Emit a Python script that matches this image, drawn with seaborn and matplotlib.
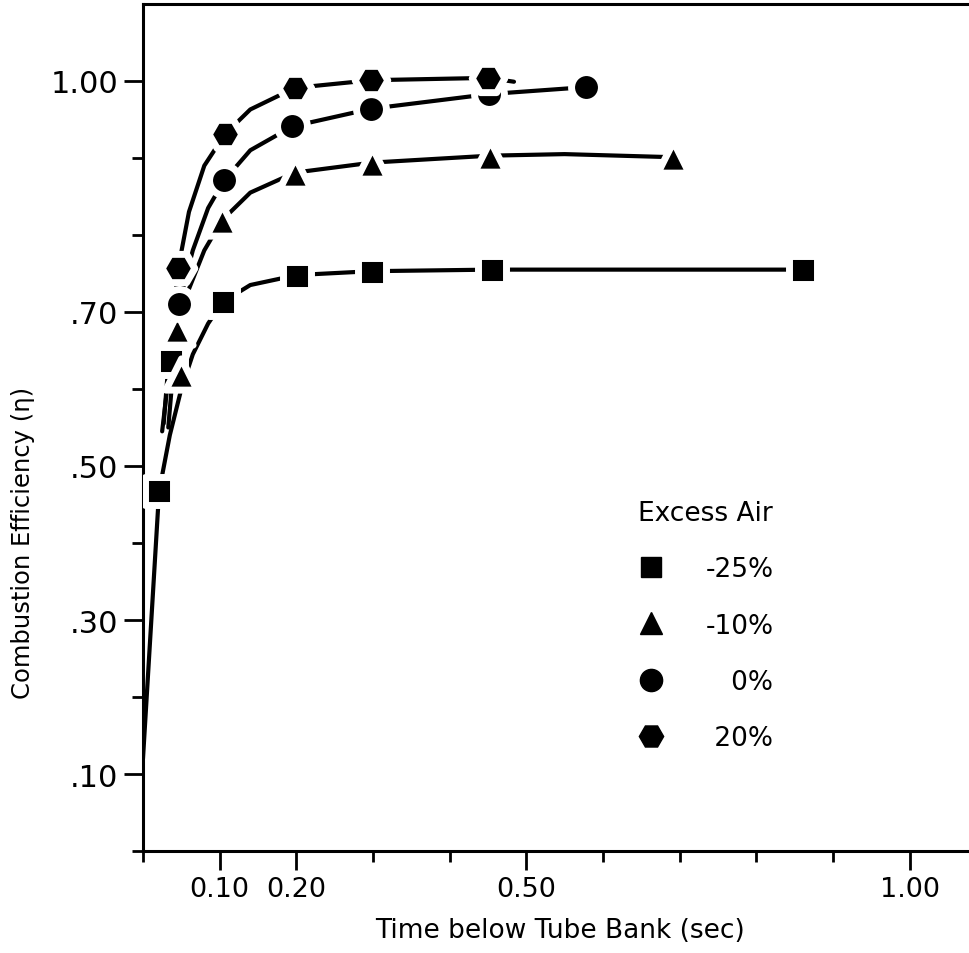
import matplotlib
matplotlib.use("Agg")
import matplotlib.pyplot as plt
from matplotlib.lines import Line2D
import pandas as pd
import seaborn as sns

# excess-air cases and their marker shapes
series = ["-25%", "-10%", "0%", "20%"]
marker_map = {"-25%": "s", "-10%": "^", "0%": "o", "20%": "H"}
# key labels, padded with digit/punctuation spaces so they line up on the right
key_labels = ["-25%", "-10%", "\u2008\u20070%", "\u200820%"]

# measured points (time in sec, combustion efficiency)
sq_x = [0.021, 0.036, 0.104, 0.201, 0.299, 0.455, 0.861]
sq_y = [0.467, 0.636, 0.713, 0.747, 0.752, 0.755, 0.755]
tri_x = [0.049, 0.044, 0.103, 0.198, 0.299, 0.453, 0.691]
tri_y = [0.619, 0.678, 0.819, 0.881, 0.894, 0.903, 0.901]
cir_x = [0.047, 0.106, 0.195, 0.298, 0.452, 0.578]
cir_y = [0.711, 0.871, 0.941, 0.964, 0.983, 0.992]
hex_x = [0.046, 0.107, 0.198, 0.298, 0.450]
hex_y = [0.757, 0.931, 0.991, 1.001, 1.004]

# hand-drawn fit curves
sq_curve_x = [0.0, 0.021, 0.035, 0.050, 0.065, 0.085, 0.104, 0.140, 0.201, 0.299, 0.455, 0.861]
sq_curve_y = [0.12, 0.467, 0.540, 0.600, 0.645, 0.685, 0.713, 0.735, 0.748, 0.753, 0.755, 0.755]
tri_curve_x = [0.033, 0.039, 0.044, 0.060, 0.080, 0.103, 0.140, 0.198, 0.299, 0.453, 0.550, 0.691]
tri_curve_y = [0.550, 0.620, 0.678, 0.730, 0.780, 0.819, 0.855, 0.881, 0.894, 0.903, 0.905, 0.901]
cir_curve_x = [0.025, 0.035, 0.047, 0.065, 0.085, 0.106, 0.140, 0.195, 0.298, 0.452, 0.578]
cir_curve_y = [0.545, 0.630, 0.711, 0.780, 0.835, 0.871, 0.910, 0.941, 0.964, 0.983, 0.992]
hex_curve_x = [0.027, 0.033, 0.040, 0.046, 0.060, 0.080, 0.107, 0.140, 0.198, 0.298, 0.450, 0.484]
hex_curve_y = [0.555, 0.630, 0.700, 0.757, 0.830, 0.890, 0.931, 0.963, 0.991, 1.001, 1.004, 0.999]

x_ticks = [0.1, 0.2, 0.5, 1.0]
x_labels = ["0.10", "0.20", "0.50", "1.00"]
x_minor = [0.0, 0.3, 0.4, 0.6, 0.7, 0.8, 0.9]
y_ticks = [0.1, 0.3, 0.5, 0.7, 1.0]
y_labels = [".10", ".30", ".50", ".70", "1.00"]
y_minor = [0.0, 0.2, 0.4, 0.6, 0.8, 0.9]

points = {"-25%": (sq_x, sq_y), "-10%": (tri_x, tri_y),
          "0%": (cir_x, cir_y), "20%": (hex_x, hex_y)}
curves = {"-25%": (sq_curve_x, sq_curve_y), "-10%": (tri_curve_x, tri_curve_y),
          "0%": (cir_curve_x, cir_curve_y), "20%": (hex_curve_x, hex_curve_y)}
# black marker size (pt) on the plot and in the key
plot_size = {"-25%": 15.5, "-10%": 17.5, "0%": 16.5, "20%": 18.5}
key_size = {"-25%": 14.5, "-10%": 16.5, "0%": 16.0, "20%": 17.5}

pts_df = pd.concat([pd.DataFrame({"x": points[s][0], "y": points[s][1], "series": s}) for s in series])
crv_df = pd.concat([pd.DataFrame({"x": curves[s][0], "y": curves[s][1], "series": s}) for s in series])

sns.set_style("ticks")
plt.rcParams["font.family"] = ["DejaVu Sans"]
plt.rcParams.update({"text.color": "black", "axes.labelcolor": "black",
                     "xtick.color": "black", "ytick.color": "black",
                     "axes.edgecolor": "black"})

fig = plt.figure(figsize=(9.7, 9.54), dpi=100)
ax = fig.add_axes([0.1474, 0.1069, 0.8598, 0.8879])

sns.lineplot(data=crv_df, x="x", y="y", units="series", estimator=None, sort=False,
             color="black", lw=3, ax=ax, zorder=2)

halo = 5
for s in series:
    sub = pts_df[pts_df["series"] == s]
    sns.scatterplot(data=sub, x="x", y="y", marker=marker_map[s], color="black",
                    s=(plot_size[s] + halo) ** 2, edgecolor="white", linewidth=halo,
                    ax=ax, zorder=3, legend=False)

ax.set_xlim(0, 1.088)
ax.set_ylim(0, 1.10)
ax.set_xticks(x_ticks)
ax.set_xticklabels(x_labels, fontsize=19.5)
ax.set_xticks(x_minor, minor=True)
ax.set_yticks(y_ticks)
ax.set_yticklabels(y_labels, fontsize=22)
ax.set_yticks(y_minor, minor=True)
ax.tick_params(which="major", length=14, width=2, direction="out", pad=4)
ax.tick_params(which="minor", length=8, width=2, direction="out")

for side in ["left", "bottom", "top"]:
    ax.spines[side].set_linewidth(2.2)
ax.spines["right"].set_visible(False)

ax.set_xlabel("Time below Tube Bank (sec)", fontsize=19)
ax.set_ylabel("Combustion Efficiency (η)", fontsize=17.5)
ax.xaxis.set_label_coords(0.5, -0.078)
ax.yaxis.set_label_coords(-0.130, 0.365)

handles = [Line2D([], [], marker=marker_map[s], color="black", linestyle="none",
                  markersize=key_size[s]) for s in series]
ax.legend(handles, key_labels, title="Excess Air", loc="upper left",
          bbox_to_anchor=(0.577, 0.43), frameon=False, fontsize=19,
          title_fontsize=19, labelspacing=1.15, handlelength=1.0,
          handletextpad=1.6, borderpad=0)

fig.savefig("out.png", dpi=100)
